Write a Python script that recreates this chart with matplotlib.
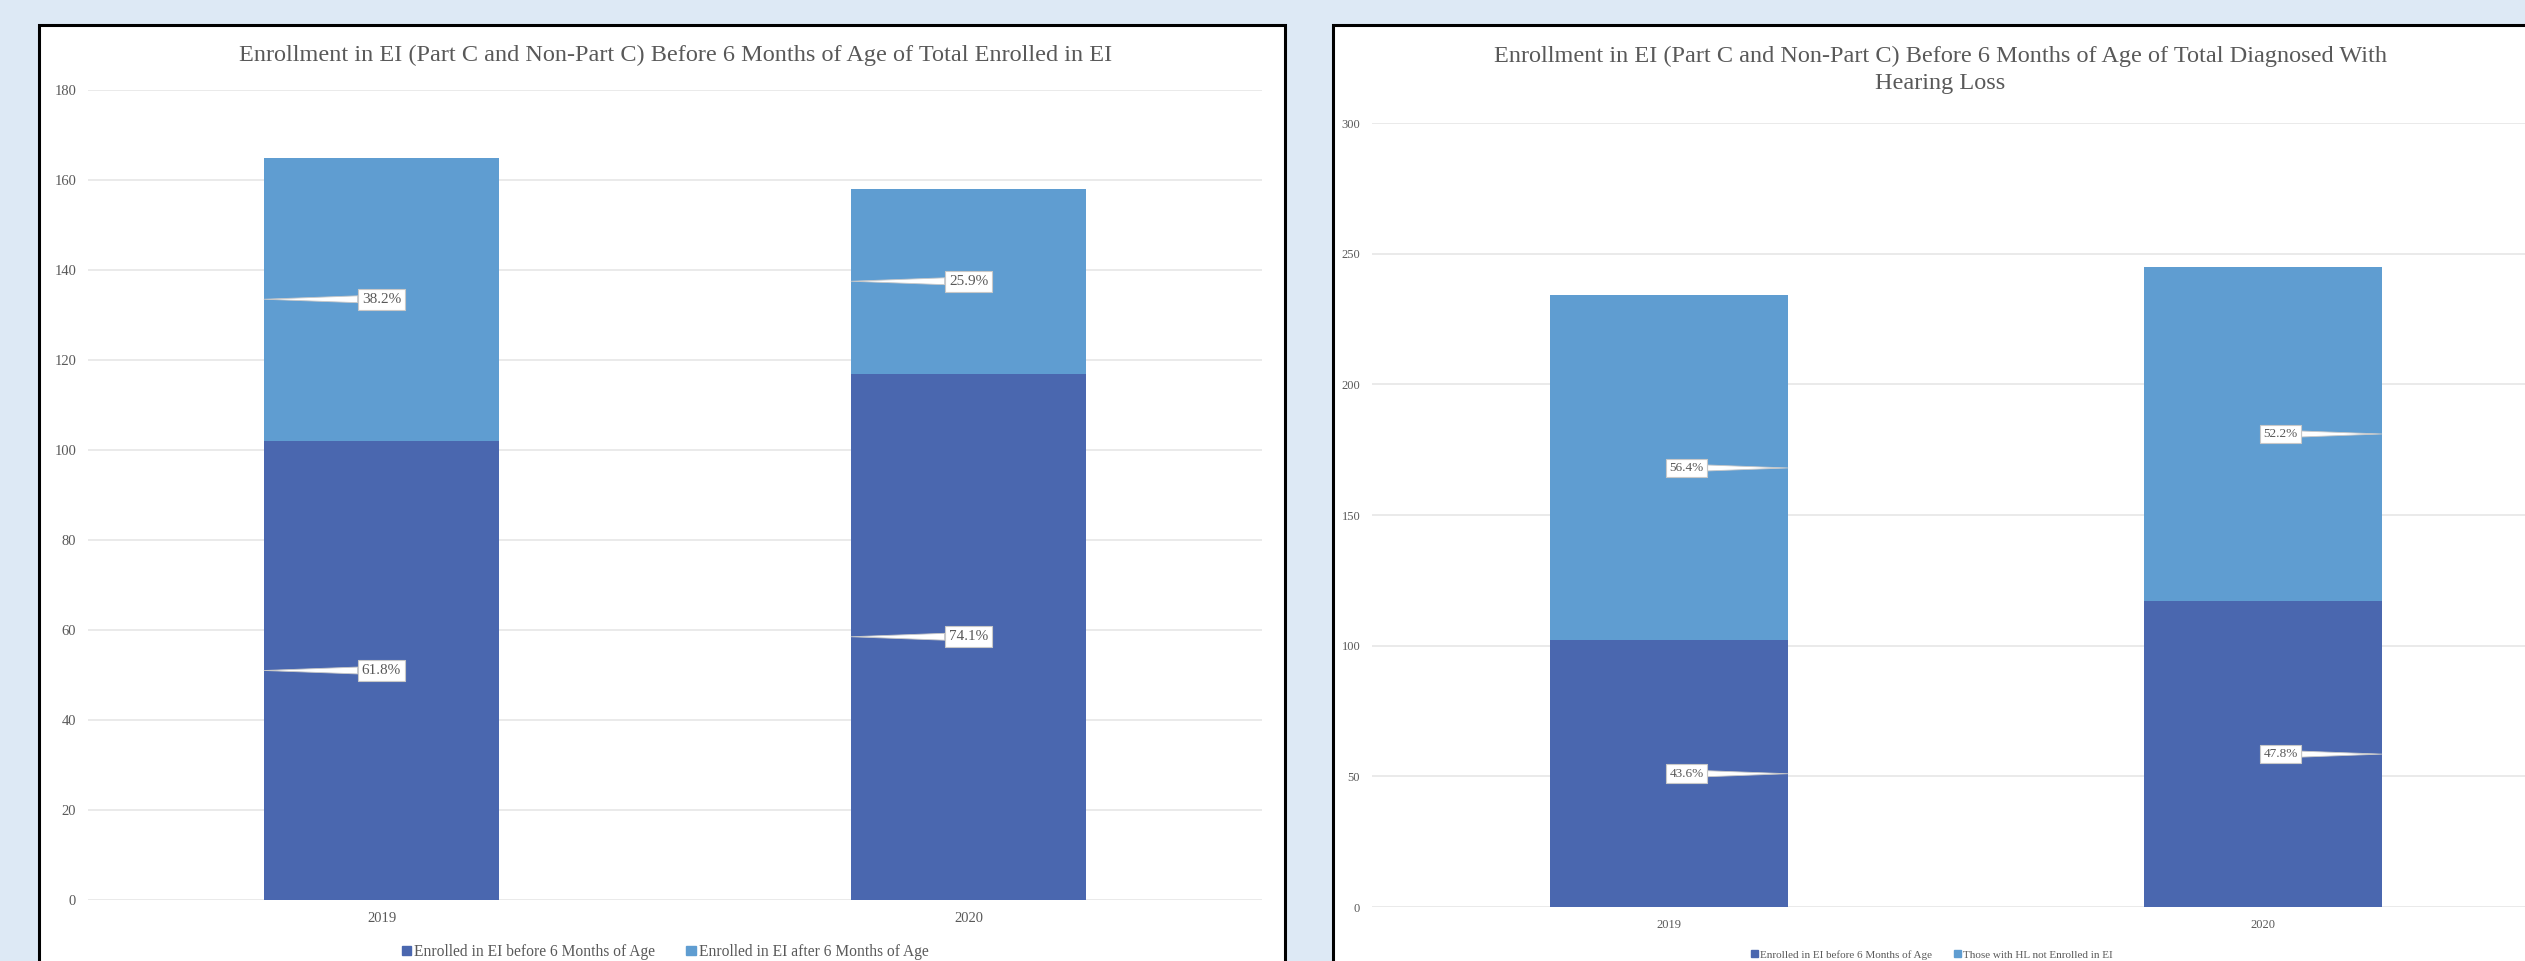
import matplotlib
matplotlib.use("Agg")
import matplotlib.pyplot as plt
from matplotlib.patches import Rectangle, Patch

# ---- data ----
years = ["2019", "2020"]

# left chart: total enrolled in EI
enrolled_before = [102, 117]
enrolled_after = [63, 41]
left_pct_before = ["61.8%", "74.1%"]
left_pct_after = ["38.2%", "25.9%"]

# right chart: total diagnosed with hearing loss
hl_before = [102, 117]
hl_not_enrolled = [132, 128]
right_pct_before = ["43.6%", "47.8%"]
right_pct_not = ["56.4%", "52.2%"]

left_title = "Enrollment in EI (Part C and Non-Part C) Before 6 Months of Age of Total Enrolled in EI"
right_title = ("Enrollment in EI (Part C and Non-Part C) Before 6 Months of Age of Total Diagnosed With\n"
               "Hearing Loss")

DARK = "#4a67af"
LIGHT = "#5f9dd1"
GRAY = "#595959"
GRID = "#e4e4e4"
BG = "#dde9f5"

W, H = 2525, 961
plt.rcParams["font.family"] = ["Liberation Serif", "DejaVu Serif"]


def fx(x):
    return x / W


def fy(y):
    return 1 - y / H


def panel(fig, x0, x1, y0):
    # white chart area with black frame, running off the bottom of the picture
    fig.patches.append(Rectangle((fx(x0), fy(H + 40)), fx(x1 - x0), (H + 40 - y0) / H,
                                 transform=fig.transFigure, facecolor="white",
                                 edgecolor="black", linewidth=2.2, zorder=-5))


def stacked(ax, lower, upper, pct_low, pct_up, ymax, step, fs, label_dx, side):
    xs = range(len(years))
    bw = 0.4
    ax.bar(xs, lower, bw, color=DARK, zorder=2)
    ax.bar(xs, upper, bw, bottom=lower, color=LIGHT, zorder=2)
    ax.set_xlim(-0.5, len(years) - 0.5)
    ax.set_ylim(0, ymax)
    ax.set_yticks(range(0, ymax + 1, step))
    ax.set_xticks(list(xs))
    ax.set_xticklabels(years)
    ax.grid(axis="y", color=GRID, linewidth=1.1, zorder=0)
    ax.set_axisbelow(True)
    for s in ax.spines.values():
        s.set_visible(False)
    ax.tick_params(length=0, labelsize=fs, colors=GRAY)
    ax.tick_params(axis="y", pad=8.5)
    ax.tick_params(axis="x", pad=9)
    ax.set_facecolor("none")
    for i in xs:
        mids = [lower[i] / 2, lower[i] + upper[i] / 2]
        for mid, txt in zip(mids, [pct_low[i], pct_up[i]]):
            edge = i - bw / 2 if side == "left" else i + bw / 2
            ax.annotate(txt, xy=(edge, mid), xytext=(i + label_dx, mid),
                        ha="center", va="center", fontsize=fs + 0.5, color=GRAY, zorder=5,
                        bbox=dict(boxstyle="square,pad=0.25", fc="white", ec="#c8c8c8", lw=0.8),
                        arrowprops=dict(arrowstyle="wedge,tail_width=0.45", fc="white",
                                        ec="#c8c8c8", lw=0.6, shrinkA=0, shrinkB=0))


fig = plt.figure(figsize=(W / 100, H / 100), dpi=100)
fig.patch.set_facecolor(BG)

panel(fig, 39, 1285, 25)
panel(fig, 1333, W + 60, 25)

# left chart
axl = fig.add_axes([fx(88), fy(900), fx(1262 - 88), (900 - 90) / H])
stacked(axl, enrolled_before, enrolled_after, left_pct_before, left_pct_after,
        180, 20, 10.5, 0.0, "left")
fig.text(fx(676), fy(55), left_title, ha="center", va="center", fontsize=17.5, color=GRAY)
fig.legend(handles=[Patch(color=DARK, label="Enrolled in EI before 6 Months of Age"),
                    Patch(color=LIGHT, label="Enrolled in EI after 6 Months of Age")],
           loc="center", bbox_to_anchor=(fx(665), fy(952)), ncol=2, frameon=False,
           fontsize=11.2, labelcolor=GRAY, handlelength=0.6, handleheight=0.6,
           handletextpad=0.2, columnspacing=2.0)

# right chart (runs off the right edge in the reference)
axr = fig.add_axes([fx(1372), fy(907), fx(2560 - 1372), (907 - 123) / H])
stacked(axr, hl_before, hl_not_enrolled, right_pct_before, right_pct_not,
        300, 50, 9, 0.03, "right")
fig.text(fx(1940), fy(70), right_title, ha="center", va="center", fontsize=17.5,
         color=GRAY, linespacing=1.4)
fig.legend(handles=[Patch(color=DARK, label="Enrolled in EI before 6 Months of Age"),
                    Patch(color=LIGHT, label="Those with HL not Enrolled in EI")],
           loc="center", bbox_to_anchor=(fx(1932), fy(955)), ncol=2, frameon=False,
           fontsize=8, labelcolor=GRAY, handlelength=0.6, handleheight=0.6,
           handletextpad=0.2, columnspacing=2.0)

fig.savefig("out.png", dpi=100, facecolor=BG)
